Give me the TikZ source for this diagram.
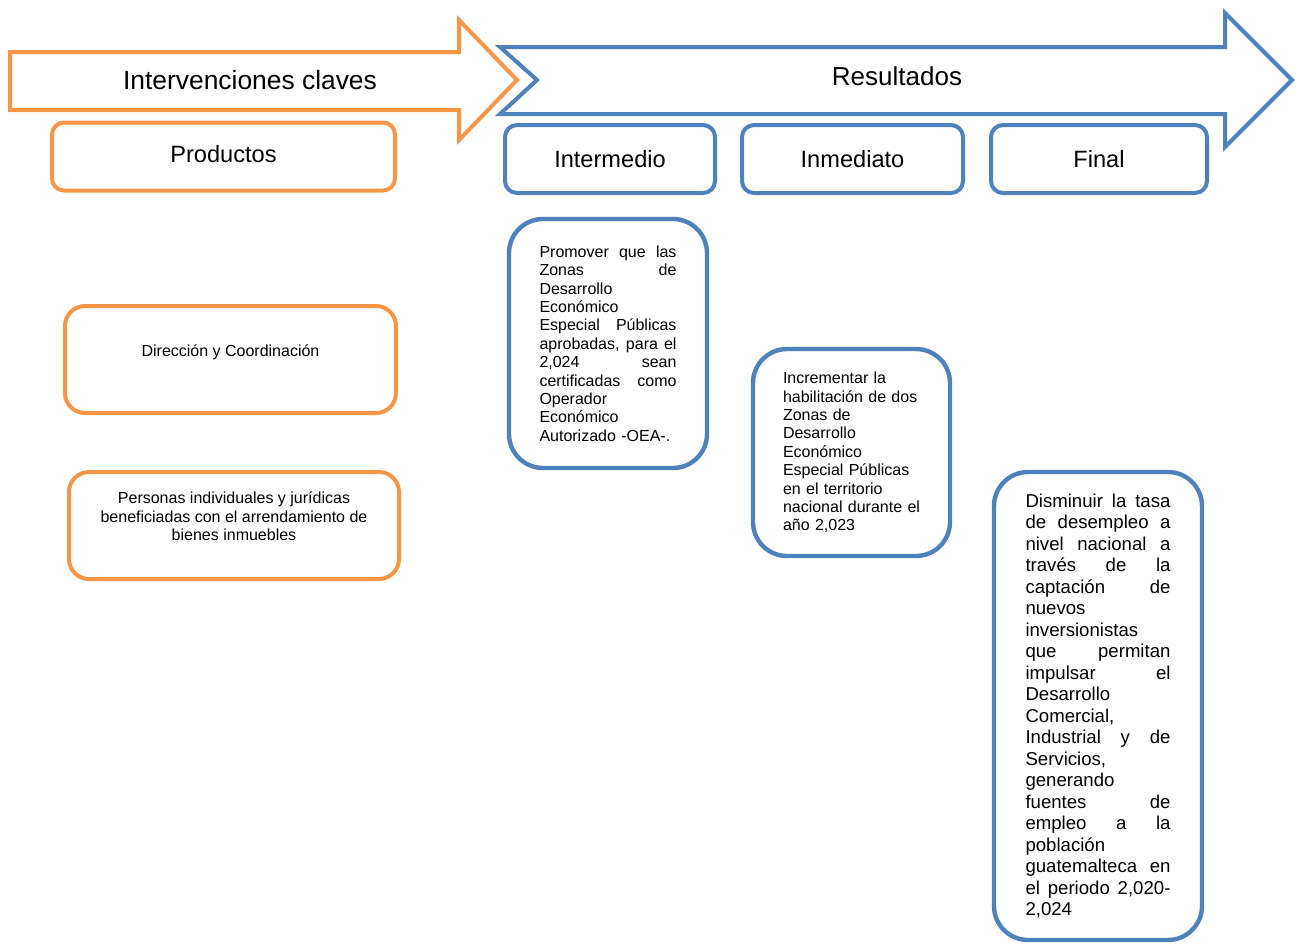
\documentclass[tikz,border=0pt]{standalone}
\usepackage{fontspec}
\setmainfont{Liberation Sans}
\usepackage{tikz}
\definecolor{orange}{HTML}{F79646}
\definecolor{blue}{HTML}{4F81BD}
\newcommand{\jline}[1]{\leavevmode\hbox to \hsize{\spaceskip=0.28em plus 1fil\relax #1}}

\begin{document}
\begin{tikzpicture}[x=0.5pt,y=-0.5pt,
  head/.style={draw,line width=2pt,rounded corners=6pt,inner sep=0pt,minimum height=34pt,font=\fontsize{11.8}{14}\selectfont},
  prod/.style={draw=orange,line width=2pt,rounded corners=10pt,inner sep=0pt,minimum width=165.5pt,minimum height=53.5pt,align=center,font=\fontsize{8}{9.2}\selectfont},
  res/.style={draw=blue,line width=2.2pt,rounded corners=17pt,inner sep=0pt,align=left}]
  \useasboundingbox (0,0) rectangle (1297,944);

  % arrows
  \draw[orange,line width=2pt,line join=miter] (10,52) -- (459,52) -- (459,20) -- (517,80)
    -- (459,140) -- (459,110) -- (10,110) -- cycle;
  \node (interv) at (250,80) {\fontsize{13.2}{15}\selectfont Intervenciones claves};

  \draw[blue,line width=2pt,line join=miter] (500,47) -- (1225,47) -- (1225,13) -- (1292,80)
    -- (1225,147) -- (1225,114) -- (500,114) -- (537,80) -- cycle;
  \node (result) at (897,76) {\fontsize{13}{15}\selectfont Resultados};

  % column heads
  \node[head,draw=orange,minimum width=171.5pt] (productos) at (223.5,156.5) {Productos\vphantom{g}};
  \node[head,draw=blue,minimum width=105pt] (intermedio) at (610,159) {Intermedio};
  \node[head,draw=blue,minimum width=110.5pt] (inmediato) at (852.5,159) {Inmediato};
  \node[head,draw=blue,minimum width=108pt] (final) at (1099,159) {Final};

  % products
  \node[prod] (direccion) at (230.5,359.5) {Dirección y Coordinación\\ \mbox{}};
  \node[prod,minimum width=165pt] (personas) at (234,525.5)
    {Personas individuales y jurídicas\\ beneficiadas con el arrendamiento de\\ bienes inmuebles\\ \mbox{}};

  % results
  \node[res,minimum width=99pt,minimum height=124.5pt,text width=68.5pt,font=\fontsize{8}{9.2}\selectfont] (promover) at (608,343.5)
    {\jline{Promover que las}\\ \jline{Zonas de}\\ Desarrollo\\ Económico\\ \jline{Especial Públicas}\\
     \jline{aprobadas, para el}\\ \jline{2,024 sean}\\ \jline{certificadas como}\\ Operador\\ Económico\\ Autorizado -OEA-.};
  \node[res,minimum width=98.5pt,minimum height=103.5pt,text width=68.5pt,font=\fontsize{8}{9.2}\selectfont] (incrementar) at (851.5,452.5)
    {Incrementar la\\ habilitación de dos\\ Zonas de\\ Desarrollo\\ Económico\\ Especial Públicas\\
     en el territorio\\ nacional durante el\\ año 2,023};
  \node[res,minimum width=104pt,minimum height=234pt,text width=72.5pt,font=\fontsize{9.3}{10.75}\selectfont] (disminuir) at (1098,706)
    {\jline{Disminuir la tasa}\\ \jline{de desempleo a}\\ \jline{nivel nacional a}\\ \jline{través de la}\\
     \jline{captación de}\\ nuevos\\ inversionistas\\ \jline{que permitan}\\ \jline{impulsar el}\\
     Desarrollo\\ Comercial,\\ \jline{Industrial y de}\\ Servicios,\\ generando\\ \jline{fuentes de}\\
     \jline{empleo a la}\\ población\\ \jline{guatemalteca en}\\ \jline{el periodo 2,020-}\\ 2,024};

\end{tikzpicture}
\end{document}
